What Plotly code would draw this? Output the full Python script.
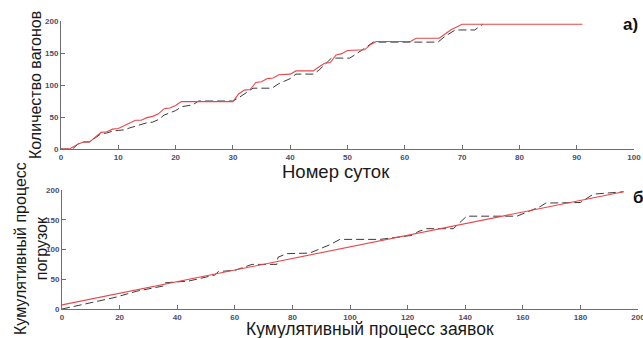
import plotly.graph_objects as go
from plotly.subplots import make_subplots

# --- Panel a) : cumulative wagons by day ---
day_red = [0, 1.5, 3, 4, 5, 6, 7, 8, 9, 10, 11, 12, 13, 14, 15, 16, 17, 18, 19, 20, 21,
           30, 31, 32, 33, 34, 35, 36, 37, 38, 40, 41, 44, 45, 46, 47, 48, 49, 50, 53,
           54, 55, 61, 62, 66, 68, 70, 91]
wagons_red = [0, 0, 8, 11, 11, 18, 26, 27, 31, 32, 36, 41, 45, 45, 49, 51, 55, 63, 64, 68, 74,
              74, 86, 92, 93, 104, 105, 110, 111, 116, 117, 122, 122, 128, 134, 135, 147, 149, 154, 155,
              163, 168, 168, 173, 173, 186, 195, 195]

day_black = [0, 2, 3, 4, 5, 6, 7, 8, 9, 10, 11, 12, 13, 14, 15, 16, 17, 18, 19, 20, 21, 22, 23, 24,
             30, 31, 32, 33.5, 36.8, 38, 40, 41, 44, 45, 47.2, 50.4, 52.6, 54.5, 65.8, 67, 68.8,
             72.2, 73.6]
wagons_black = [0, 0, 8, 11, 11, 17, 24, 25, 28, 29, 30, 33, 36, 38, 41, 42, 46, 53, 56, 60, 66, 67, 69, 75,
                75, 80, 86, 95, 95, 102, 110, 117, 117, 123, 142, 142, 155, 167, 167, 176, 186,
                186, 195]

# --- Panel б) : cumulative loadings vs cumulative requests ---
req_fit = [0, 195]
load_fit = [7, 197]

req_black = [0, 18, 26, 35.5, 35.8, 44, 53, 54.3, 60, 66, 74.6, 75, 78, 86, 93, 96.5, 110.4, 115,
             122, 123.6, 126.6, 135.9, 138, 140.5, 158, 166, 168, 180, 184.5, 192, 195]
load_black = [0, 19, 30, 39, 44, 47, 57, 63, 65, 75, 75, 87, 93, 94, 108, 117, 117, 120,
              124, 130, 135, 135, 144, 156, 156, 172, 178, 179, 193, 196, 197]

RED = "#e8474a"
DARK = "#3a3a3a"
DASH = "8px,4px"
W, H = 643, 338

fig = make_subplots(rows=2, cols=1)

fig.add_trace(go.Scatter(x=day_black, y=wagons_black, mode="lines",
                         line=dict(color=DARK, width=1, dash=DASH)), row=1, col=1)
fig.add_trace(go.Scatter(x=day_red, y=wagons_red, mode="lines",
                         line=dict(color=RED, width=1.1)), row=1, col=1)
fig.add_trace(go.Scatter(x=req_black, y=load_black, mode="lines",
                         line=dict(color=DARK, width=1, dash=DASH)), row=2, col=1)
fig.add_trace(go.Scatter(x=req_fit, y=load_fit, mode="lines",
                         line=dict(color=RED, width=1.1)), row=2, col=1)

tickfont = dict(family="Arial, Liberation Sans, sans-serif", size=8, color="#4d4d6b", weight="bold")
axis_common = dict(showgrid=False, zeroline=False, showline=True, linecolor="#6e6e6e",
                   linewidth=1, ticks="inside", ticklen=4, tickcolor="#6e6e6e",
                   tickfont=tickfont, automargin=False, mirror=False,
                   ticklabeloverflow="allow")

fig.update_xaxes(**axis_common)
fig.update_yaxes(**axis_common)

fig.update_layout(
    xaxis=dict(domain=[61 / W, 634 / W], range=[0, 100], tickvals=list(range(0, 101, 10))),
    yaxis=dict(domain=[1 - 149 / H, 1 - 21 / H], range=[0, 200], tickvals=[0, 50, 100, 150, 200]),
    xaxis2=dict(domain=[62 / W, 638 / W], range=[0, 200], tickvals=list(range(0, 201, 20))),
    yaxis2=dict(domain=[1 - 309 / H, 1 - 190 / H], range=[0, 200], tickvals=[0, 50, 100, 150, 200]),
)

title_font = dict(family="Arial, Liberation Sans, sans-serif", size=18, color="#1a1a1a")
annotations = [
    dict(text="Количество вагонов", x=35 / W, y=1 - 85 / H, textangle=-90, font=dict(size=16)),
    dict(text="Номер суток", x=336 / W, y=1 - 171 / H, font=dict(size=18.5)),
    dict(text="Кумулятивный процесс<br>погрузок", x=31 / W, y=1 - 249 / H, textangle=-90,
         font=dict(size=16)),
    dict(text="Кумулятивный процесс заявок", x=370 / W, y=1 - 328.5 / H, font=dict(size=17.5)),
]
for a in annotations:
    f = dict(title_font)
    f.update(a.pop("font", {}))
    a.update(xref="paper", yref="paper", showarrow=False, font=f,
             xanchor="center", yanchor="middle")
annotations.append(dict(text="<b>а)</b>", x=621 / W, y=1 - 24 / H, xref="paper", yref="paper",
                        showarrow=False, xanchor="left", yanchor="middle",
                        font=dict(family="Arial, Liberation Sans, sans-serif", size=17, color="#111")))
annotations.append(dict(text="<b>б)</b>", x=631 / W, y=1 - 197 / H, xref="paper", yref="paper",
                        showarrow=False, xanchor="left", yanchor="middle",
                        font=dict(family="Arial, Liberation Sans, sans-serif", size=17, color="#111")))

fig.update_layout(
    width=W, height=H,
    margin=dict(l=0, r=0, t=0, b=0),
    paper_bgcolor="white", plot_bgcolor="white",
    showlegend=False,
    annotations=annotations,
)

fig.write_html("out.html", config={"displayModeBar": False},
               post_script="document.body.style.margin='0px';document.body.style.overflow='hidden';")
